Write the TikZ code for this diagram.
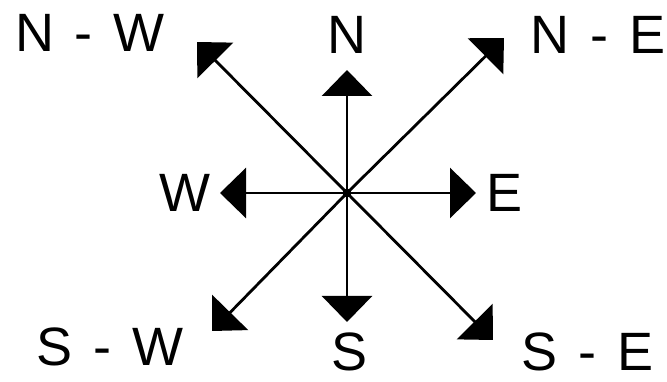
\documentclass[tikz,border=0pt]{standalone}
\usepackage{fontspec}
\setmainfont{Liberation Sans}
\usetikzlibrary{arrows.meta}
\newcommand{\dsh}{\kern6pt-\kern6pt}
\begin{document}
\begin{tikzpicture}[x=1pt,y=-1pt,
  dirarrow/.style={line width=2.8pt,-{Triangle[length=26pt,width=50pt]}},
  lbl/.style={inner sep=0pt,font=\fontsize{54}{60}\selectfont}]
\useasboundingbox (0,0) rectangle (667,382);
\fill[white] (0,0) rectangle (667,382);
\coordinate (c) at (347,193);
\coordinate (n) at (347,70);
\coordinate (s) at (347,322);
\coordinate (e) at (476,193);
\coordinate (w) at (220,193);
\coordinate (ne) at (504,38);
\coordinate (nw) at (197,42);
\coordinate (sw) at (212,331);
\coordinate (se) at (493,340);
\foreach \t in {n,s,e,w,ne,nw,sw,se} \draw[dirarrow] (c) -- (\t);
\fill (c) circle (4.5pt);
\node[lbl] (lN) at (347,35) {N};
\node[lbl] (lS) at (350,352) {S};
\node[lbl] (lE) at (505,193) {E};
\node[lbl] (lW) at (185,193) {W};
\node[lbl] (lNW) at (90,33) {N \dsh{} W};
\node[lbl] (lNE) at (598,35) {N \dsh{} E};
\node[lbl] (lSW) at (110,347) {S \dsh{} W};
\node[lbl] (lSE) at (588,352) {S \dsh{} E};
\end{tikzpicture}
\end{document}
